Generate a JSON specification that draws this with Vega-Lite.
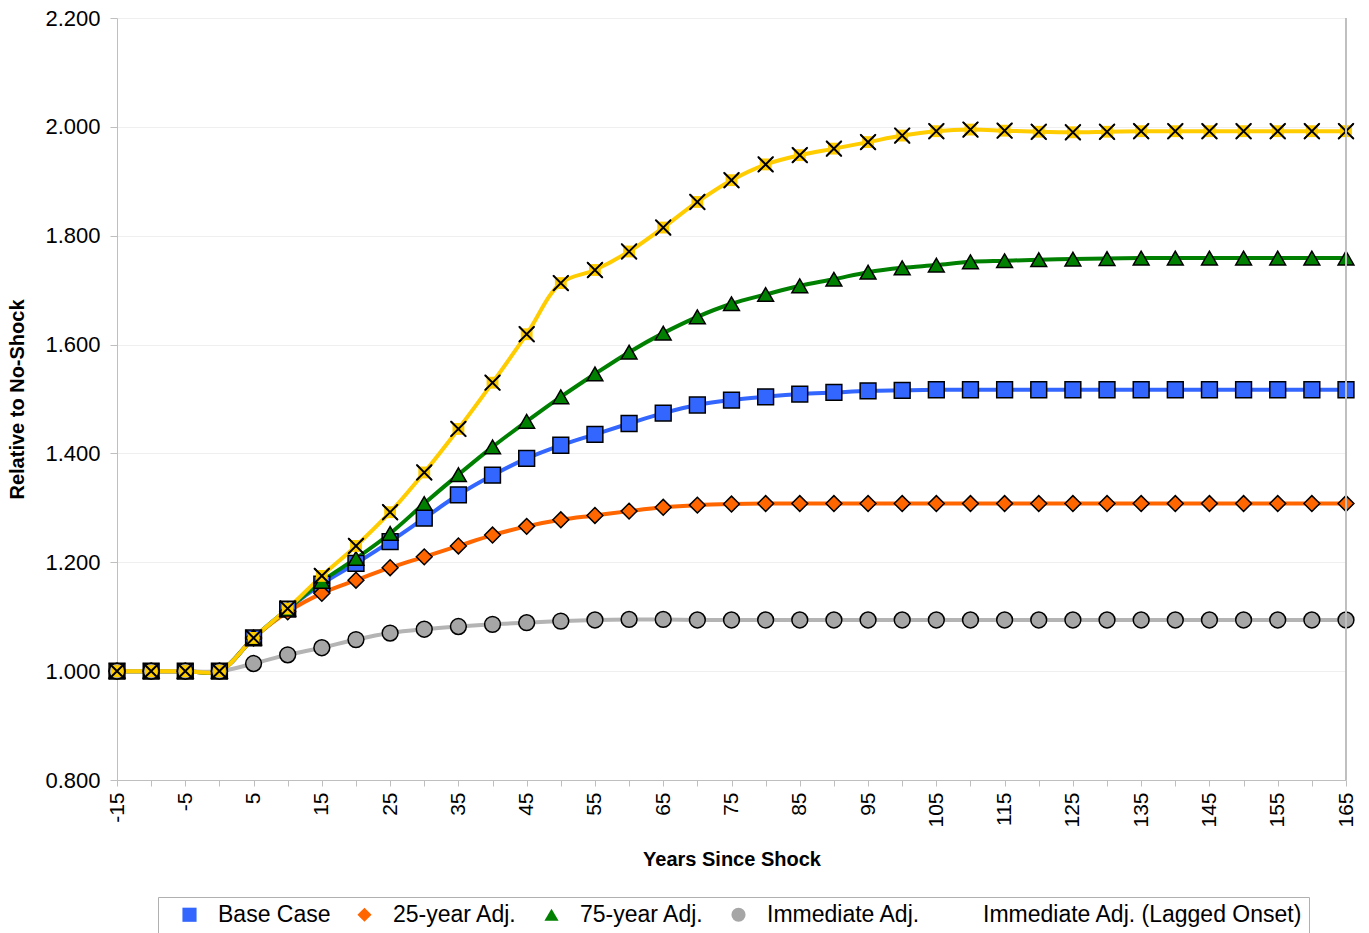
{
  "$schema": "https://vega.github.io/schema/vega-lite/v6.json",
  "autosize": {"type": "none"},
  "width": 1229,
  "height": 762,
  "padding": {"left": 117, "top": 18, "right": 23, "bottom": 153},
  "background": "white",
  "config": {
    "font": "Liberation Sans",
    "view": {"stroke": null},
    "axis": {"labelColor": "black", "titleColor": "black", "domainColor": "#BFBFBF", "tickColor": "#BFBFBF"}
  },
  "data": {
    "values": [
      {"year": -15, "base": 1.000, "adj25": 1.000, "adj75": 1.000, "imm": 1.000, "lag": 1.000},
      {"year": -10, "base": 1.000, "adj25": 1.000, "adj75": 1.000, "imm": 1.000, "lag": 1.000},
      {"year": -5, "base": 1.000, "adj25": 1.000, "adj75": 1.000, "imm": 1.000, "lag": 1.000},
      {"year": 0, "base": 1.000, "adj25": 1.000, "adj75": 1.000, "imm": 1.000, "lag": 1.000},
      {"year": 5, "base": 1.061, "adj25": 1.061, "adj75": 1.061, "imm": 1.014, "lag": 1.061},
      {"year": 10, "base": 1.114, "adj25": 1.109, "adj75": 1.114, "imm": 1.030, "lag": 1.115},
      {"year": 15, "base": 1.160, "adj25": 1.143, "adj75": 1.165, "imm": 1.043, "lag": 1.175},
      {"year": 20, "base": 1.198, "adj25": 1.167, "adj75": 1.207, "imm": 1.058, "lag": 1.230},
      {"year": 25, "base": 1.238, "adj25": 1.190, "adj75": 1.253, "imm": 1.070, "lag": 1.292},
      {"year": 30, "base": 1.281, "adj25": 1.210, "adj75": 1.308, "imm": 1.077, "lag": 1.365},
      {"year": 35, "base": 1.324, "adj25": 1.230, "adj75": 1.361, "imm": 1.082, "lag": 1.445},
      {"year": 40, "base": 1.360, "adj25": 1.250, "adj75": 1.412, "imm": 1.086, "lag": 1.530},
      {"year": 45, "base": 1.391, "adj25": 1.266, "adj75": 1.459, "imm": 1.089, "lag": 1.619},
      {"year": 50, "base": 1.415, "adj25": 1.278, "adj75": 1.504, "imm": 1.092, "lag": 1.713},
      {"year": 55, "base": 1.435, "adj25": 1.286, "adj75": 1.546, "imm": 1.094, "lag": 1.737},
      {"year": 60, "base": 1.455, "adj25": 1.294, "adj75": 1.586, "imm": 1.095, "lag": 1.771},
      {"year": 65, "base": 1.474, "adj25": 1.301, "adj75": 1.621, "imm": 1.095, "lag": 1.815},
      {"year": 70, "base": 1.489, "adj25": 1.305, "adj75": 1.651, "imm": 1.094, "lag": 1.862},
      {"year": 75, "base": 1.498, "adj25": 1.307, "adj75": 1.675, "imm": 1.094, "lag": 1.902},
      {"year": 80, "base": 1.504, "adj25": 1.308, "adj75": 1.692, "imm": 1.094, "lag": 1.931},
      {"year": 85, "base": 1.509, "adj25": 1.308, "adj75": 1.708, "imm": 1.094, "lag": 1.948},
      {"year": 90, "base": 1.512, "adj25": 1.308, "adj75": 1.720, "imm": 1.094, "lag": 1.960},
      {"year": 95, "base": 1.515, "adj25": 1.308, "adj75": 1.733, "imm": 1.094, "lag": 1.972},
      {"year": 100, "base": 1.516, "adj25": 1.308, "adj75": 1.741, "imm": 1.094, "lag": 1.984},
      {"year": 105, "base": 1.517, "adj25": 1.308, "adj75": 1.746, "imm": 1.094, "lag": 1.992},
      {"year": 110, "base": 1.517, "adj25": 1.308, "adj75": 1.752, "imm": 1.094, "lag": 1.995},
      {"year": 115, "base": 1.517, "adj25": 1.308, "adj75": 1.754, "imm": 1.094, "lag": 1.993},
      {"year": 120, "base": 1.517, "adj25": 1.308, "adj75": 1.756, "imm": 1.094, "lag": 1.991},
      {"year": 125, "base": 1.517, "adj25": 1.308, "adj75": 1.757, "imm": 1.094, "lag": 1.990},
      {"year": 130, "base": 1.517, "adj25": 1.308, "adj75": 1.758, "imm": 1.094, "lag": 1.991},
      {"year": 135, "base": 1.517, "adj25": 1.308, "adj75": 1.759, "imm": 1.094, "lag": 1.992},
      {"year": 140, "base": 1.517, "adj25": 1.308, "adj75": 1.759, "imm": 1.094, "lag": 1.992},
      {"year": 145, "base": 1.517, "adj25": 1.308, "adj75": 1.759, "imm": 1.094, "lag": 1.992},
      {"year": 150, "base": 1.517, "adj25": 1.308, "adj75": 1.759, "imm": 1.094, "lag": 1.992},
      {"year": 155, "base": 1.517, "adj25": 1.308, "adj75": 1.759, "imm": 1.094, "lag": 1.992},
      {"year": 160, "base": 1.517, "adj25": 1.308, "adj75": 1.759, "imm": 1.094, "lag": 1.992},
      {"year": 165, "base": 1.517, "adj25": 1.308, "adj75": 1.759, "imm": 1.094, "lag": 1.992}
    ]
  },
  "transform": [
    {"fold": ["base", "adj25", "adj75", "imm", "lag"], "as": ["series", "value"]}
  ],
  "encoding": {
    "x": {
      "field": "year", "type": "quantitative",
      "scale": {"domain": [-15, 165], "nice": false, "zero": false},
      "axis": {
        "title": "Years Since Shock",
        "titleFontSize": 20, "titleFontWeight": "bold", "titlePadding": 22,
        "values": [-15,-10,-5,0,5,10,15,20,25,30,35,40,45,50,55,60,65,70,75,80,85,90,95,100,105,110,115,120,125,130,135,140,145,150,155,160,165],
        "labelExpr": "(datum.value + 15) % 10 == 0 ? '' + datum.value : ''",
        "labelAngle": -90, "labelFontSize": 21, "labelPadding": 6,
        "tickSize": 6, "grid": false, "labelOverlap": false, "labelBound": false, "labelFlush": false
      }
    },
    "y": {
      "field": "value", "type": "quantitative",
      "scale": {"domain": [0.8, 2.2], "nice": false, "zero": false},
      "axis": {
        "title": "Relative to No-Shock",
        "titleFontSize": 20, "titleFontWeight": "bold", "titlePadding": 17,
        "values": [0.8, 1.0, 1.2, 1.4, 1.6, 1.8, 2.0, 2.2],
        "format": ".3f", "labelFontSize": 22, "labelPadding": 10,
        "tickSize": 7, "grid": true, "gridColor": "#EFEFEF", "labelFlush": false
      }
    }
  },
  "layer": [
    {
      "mark": {"type": "line", "strokeWidth": 4, "interpolate": "catmull-rom"},
      "encoding": {
        "stroke": {
          "field": "series", "type": "nominal",
          "scale": {"range": ["#FF6600", "#008000", "#3366FF", "#B4B4B4", "#FFCC00"]},
          "legend": null
        }
      }
    },
    {
      "mark": {"type": "point", "filled": true, "size": 250, "stroke": "black", "strokeWidth": 1.5, "opacity": 1},
      "encoding": {
        "fill": {
          "field": "series", "type": "nominal",
          "scale": {
            "domain": ["base", "adj25", "adj75", "imm", "lag"],
            "range": ["#3366FF", "#FF6600", "#008000", "#A6A6A6", "#FFCC00"]
          },
          "legend": {
            "title": null, "orient": "none", "legendX": 41, "legendY": 879, "direction": "horizontal",
            "strokeColor": "#B0B0B0", "padding": 6,
            "labelFontSize": 23, "labelColor": "black", "labelLimit": 400, "labelOffset": 17,
            "symbolSize": 200, "symbolStrokeColor": "black", "symbolStrokeWidth": 1.5,
            "columnPadding": 8, "symbolOffset": 14,
            "encode": {"symbols": {"stroke": {"value": "black"}, "strokeWidth": {"value": 1.5}, "strokeOpacity": {"value": 1}}},
            "labelExpr": "datum.label == 'base' ? 'Base Case' : datum.label == 'adj25' ? '25-year Adj.' : datum.label == 'adj75' ? '75-year Adj.' : datum.label == 'imm' ? 'Immediate Adj.' : 'Immediate Adj. (Lagged Onset)'"
          }
        },
        "shape": {
          "field": "series", "type": "nominal",
          "scale": {
            "domain": ["base", "adj25", "adj75", "imm", "lag"],
            "range": ["square", "diamond", "triangle-up", "circle", "M-1,-1L1,1M-1,1L1,-1"]
          },
          "legend": {
            "title": null, "orient": "none", "legendX": 41, "legendY": 879, "direction": "horizontal",
            "strokeColor": "#B0B0B0", "padding": 6,
            "labelFontSize": 23, "labelColor": "black", "labelLimit": 400, "labelOffset": 17,
            "symbolSize": 200, "symbolStrokeColor": "black", "symbolStrokeWidth": 1.5,
            "columnPadding": 8, "symbolOffset": 14,
            "encode": {"symbols": {"stroke": {"value": "black"}, "strokeWidth": {"value": 1.5}, "strokeOpacity": {"value": 1}}},
            "labelExpr": "datum.label == 'base' ? 'Base Case' : datum.label == 'adj25' ? '25-year Adj.' : datum.label == 'adj75' ? '75-year Adj.' : datum.label == 'imm' ? 'Immediate Adj.' : 'Immediate Adj. (Lagged Onset)'"
          }
        }
      }
    },
    {
      "transform": [{"filter": "datum.series == 'lag'"}],
      "mark": {"type": "point", "filled": true, "shape": "square", "size": 140, "fill": "#FFCC00", "strokeWidth": 0, "opacity": 1}
    },
    {
      "transform": [{"filter": "datum.series == 'lag'"}],
      "mark": {"type": "point", "filled": false, "shape": "M-1,-1L1,1M-1,1L1,-1", "size": 220, "stroke": "black", "strokeWidth": 2, "opacity": 1}
    },
    {
      "mark": {"type": "rule", "color": "#BFBFBF", "strokeWidth": 1},
      "encoding": {"x": {"datum": 165}, "y": {"datum": 0.8}, "y2": {"datum": 2.2}}
    }
  ]
}
